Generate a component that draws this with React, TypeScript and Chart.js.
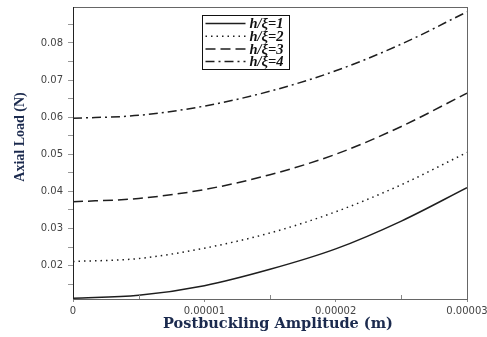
import React, { useEffect, useRef } from "react";
import { Chart, registerables } from "chart.js";

Chart.register(...registerables);

const amplitude = [0, 0.5e-5, 1.0e-5, 1.5e-5, 2.0e-5, 2.5e-5, 3.0e-5];
const load1 = [0.0112, 0.012, 0.0146, 0.019, 0.0245, 0.032, 0.041];
const load2 = [0.0211, 0.0219, 0.0247, 0.0288, 0.0345, 0.0418, 0.0505];
const load3 = [0.0372, 0.0381, 0.0405, 0.0445, 0.05, 0.0575, 0.0665];
const load4 = [0.0597, 0.0605, 0.063, 0.067, 0.0725, 0.0797, 0.0884];
const seriesLabels = ["h/ξ=1", "h/ξ=2", "h/ξ=3", "h/ξ=4"];
const seriesDashes = [[], [1.5, 4], [10, 5], [9, 4, 2, 4]];
const xMinorTicks = [0.5e-5, 1.5e-5, 2.5e-5];
const xTitle = "Postbuckling Amplitude (m)";
const yTitle = "Axial Load (N)";

const lineColor = "#1e1e1e";
const titleColor = "#1b2a4e";

const extrasPlugin = {
  id: "extras",
  afterDraw(chart: any) {
    const { ctx, chartArea } = chart;
    const xs = chart.scales.x;
    ctx.save();
    // inside minor ticks on x axis
    ctx.strokeStyle = "#888";
    ctx.lineWidth = 1;
    xMinorTicks.forEach((v) => {
      const px = Math.round(xs.getPixelForValue(v)) + 0.5;
      ctx.beginPath();
      ctx.moveTo(px, chartArea.bottom);
      ctx.lineTo(px, chartArea.bottom - 4);
      ctx.stroke();
    });
    // plot frame
    ctx.strokeStyle = "#666";
    ctx.lineWidth = 1;
    ctx.strokeRect(
      Math.round(chartArea.left) + 0.5,
      Math.round(chartArea.top) + 0.5,
      Math.round(chartArea.right - chartArea.left),
      Math.round(chartArea.bottom - chartArea.top)
    );
    ctx.strokeStyle = "#222";
    ctx.beginPath();
    ctx.moveTo(Math.round(chartArea.left) + 0.5, chartArea.top);
    ctx.lineTo(Math.round(chartArea.left) + 0.5, chartArea.bottom);
    ctx.stroke();

    // legend
    const bx = chartArea.left + 129.5;
    const by = chartArea.top + 8.5;
    const bw = 87;
    const bh = 54;
    ctx.fillStyle = "#fff";
    ctx.fillRect(bx, by, bw, bh);
    ctx.strokeStyle = "#111";
    ctx.lineWidth = 1;
    ctx.strokeRect(bx, by, bw, bh);
    chart.data.datasets.forEach((ds: any, i: number) => {
      const cy = by + 8 + i * 12.7;
      ctx.save();
      ctx.strokeStyle = ds.borderColor;
      ctx.lineWidth = ds.borderWidth;
      ctx.setLineDash(ds.borderDash || []);
      ctx.beginPath();
      ctx.moveTo(bx + 3, cy);
      ctx.lineTo(bx + 43, cy);
      ctx.stroke();
      ctx.restore();
      ctx.fillStyle = "#111";
      ctx.font = "italic bold 14.5px 'Liberation Serif'";
      ctx.textBaseline = "middle";
      ctx.textAlign = "left";
      ctx.fillText(ds.label, bx + 47, cy + 1);
    });

    // axis titles
    ctx.fillStyle = titleColor;
    ctx.font = "bold 14.5px 'DejaVu Serif'";
    ctx.textAlign = "center";
    ctx.textBaseline = "middle";
    ctx.fillText(xTitle, 278, 324);
    ctx.save();
    ctx.translate(20, 137);
    ctx.rotate(-Math.PI / 2);
    ctx.font = "bold 14px 'Liberation Serif'";
    ctx.fillText(yTitle, 0, 0);
    ctx.restore();
    ctx.restore();
  },
};

export default function App() {
  const canvasRef = useRef<HTMLCanvasElement | null>(null);

  useEffect(() => {
    const canvas = canvasRef.current;
    if (!canvas) return;
    const allLoads = [load1, load2, load3, load4];
    const chart = new Chart(canvas, {
      type: "line",
      data: {
        datasets: allLoads.map((arr, i) => ({
          label: seriesLabels[i],
          data: amplitude.map((a, j) => ({ x: a, y: arr[j] })),
          borderColor: lineColor,
          borderWidth: 1.5,
          borderDash: seriesDashes[i],
          pointRadius: 0,
          fill: false,
          cubicInterpolationMode: "monotone",
        })),
      },
      options: {
        responsive: false,
        animation: false,
        layout: { padding: { top: 7, right: 20, left: 0, bottom: 0 } },
        plugins: {
          legend: { display: false },
          tooltip: { enabled: false },
        },
        scales: {
          x: {
            type: "linear",
            min: 0,
            max: 3e-5,
            afterFit: (s: any) => {
              s.height = 38;
              s.paddingRight = 0;
              s.paddingLeft = 0;
            },
            border: { display: false },
            grid: {
              drawOnChartArea: false,
              drawTicks: true,
              tickLength: 3,
              tickColor: "#888",
            },
            ticks: {
              stepSize: 1e-5,
              maxRotation: 0,
              autoSkip: false,
              padding: 3,
              color: "#444",
              font: { family: "'DejaVu Sans'", size: 10 },
              callback: (v: any) => (Number(v) === 0 ? "0" : Number(v).toFixed(5)),
            },
          },
          y: {
            type: "linear",
            min: 0.011,
            max: 0.0897,
            afterFit: (s: any) => {
              s.width = 73;
              s.paddingTop = 0;
              s.paddingBottom = 0;
            },
            border: { display: false },
            grid: {
              drawOnChartArea: false,
              drawTicks: true,
              tickLength: 5,
              tickColor: "#999",
            },
            ticks: {
              stepSize: 0.005,
              includeBounds: false,
              autoSkip: false,
              padding: 5,
              color: "#444",
              font: { family: "'DejaVu Sans'", size: 10 },
              callback: (v: any) => {
                const n = Number(v) * 100;
                return Math.abs(n - Math.round(n)) < 1e-6 ? Number(v).toFixed(2) : "";
              },
            },
          },
        },
      },
      plugins: [extrasPlugin],
    } as any);
    return () => chart.destroy();
  }, []);

  return (
    <div style={{ position: "absolute", left: 0, top: 0, width: 487, height: 337, background: "#fff" }}>
      <canvas ref={canvasRef} width={487} height={337} style={{ display: "block" }} />
    </div>
  );
}
